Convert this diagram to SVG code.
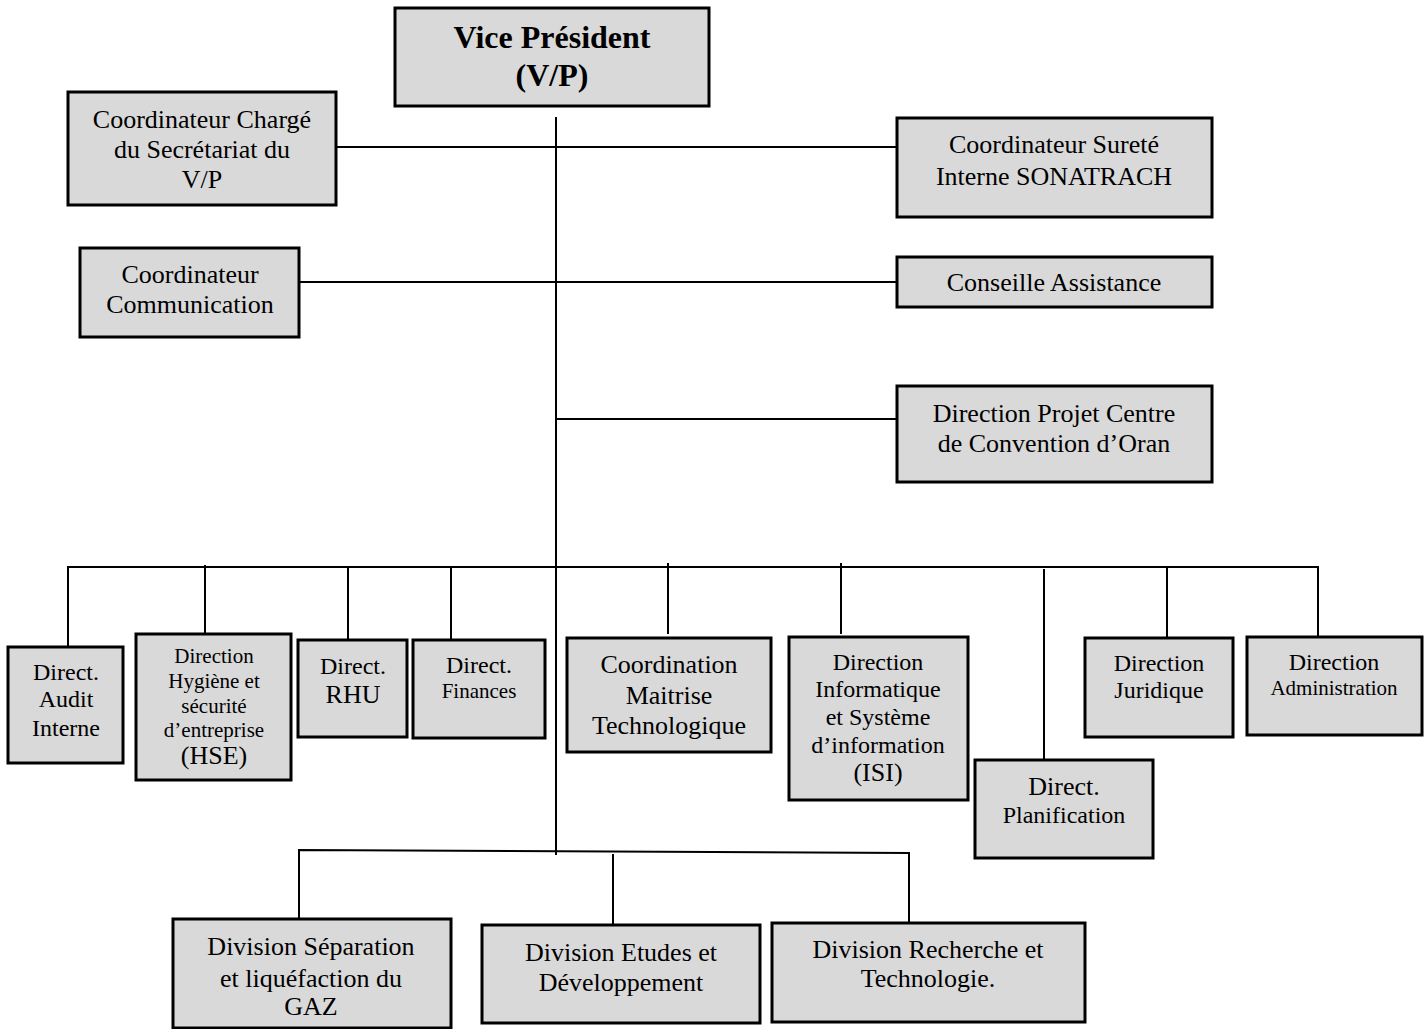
<svg xmlns="http://www.w3.org/2000/svg" width="1428" height="1029" viewBox="0 0 1428 1029">
<style>
.box{fill:#d9d9d9;stroke:#000;stroke-width:3}
.ln{stroke:#000;stroke-width:2;fill:none}
text{font-family:"Liberation Serif","Times New Roman",serif;text-anchor:middle;fill:#000}
.f26{font-size:26px}
.f24{font-size:24px}
.f21{font-size:21px}
.vp{font-size:32px;font-weight:bold}
</style>
<rect width="1428" height="1029" fill="#fff"/>
<g id="connectors">
<line class="ln" x1="556" y1="117" x2="556" y2="855"/>
<line class="ln" x1="336" y1="147" x2="897" y2="147"/>
<line class="ln" x1="299" y1="282" x2="897" y2="282"/>
<line class="ln" x1="556" y1="419" x2="897" y2="419"/>
<polyline class="ln" points="68,647 68,567 1318,567 1318,637"/>
<line class="ln" x1="205" y1="565" x2="205" y2="634"/>
<line class="ln" x1="348" y1="567" x2="348" y2="640"/>
<line class="ln" x1="451" y1="567" x2="451" y2="640"/>
<line class="ln" x1="668" y1="563" x2="668" y2="634"/>
<line class="ln" x1="841" y1="563" x2="841" y2="634"/>
<line class="ln" x1="1044" y1="569" x2="1044" y2="761"/>
<line class="ln" x1="1167" y1="567" x2="1167" y2="638"/>
<polyline class="ln" points="299,919 299,850 909,853 909,923"/>
<line class="ln" x1="613" y1="854" x2="613" y2="925"/>
</g>
<g id="vp">
<rect class="box" x="395" y="8" width="314" height="98"/>
<text class="vp" x="552" y="48">Vice Président</text>
<text class="vp" x="552" y="86">(V/P)</text>
</g>
<g id="coord-secretariat">
<rect class="box" x="68" y="92" width="268" height="113"/>
<text class="f26" x="202" y="128">Coordinateur Chargé</text>
<text class="f26" x="202" y="158">du Secrétariat du</text>
<text class="f26" x="202" y="188">V/P</text>
</g>
<g id="coord-surete">
<rect class="box" x="897" y="118" width="315" height="99"/>
<text class="f26" x="1054" y="153">Coordinateur Sureté</text>
<text class="f26" x="1054" y="185">Interne SONATRACH</text>
</g>
<g id="coord-communication">
<rect class="box" x="80" y="248" width="219" height="89"/>
<text class="f26" x="190" y="283">Coordinateur</text>
<text class="f26" x="190" y="313">Communication</text>
</g>
<g id="conseille-assistance">
<rect class="box" x="897" y="257" width="315" height="50"/>
<text class="f26" x="1054" y="291">Conseille Assistance</text>
</g>
<g id="direction-projet">
<rect class="box" x="897" y="386" width="315" height="96"/>
<text class="f26" x="1054" y="422">Direction Projet Centre</text>
<text class="f26" x="1054" y="452">de Convention d’Oran</text>
</g>
<g id="audit">
<rect class="box" x="8" y="647" width="115" height="116"/>
<text class="f24" x="66" y="680">Direct.</text>
<text class="f24" x="66" y="707">Audit</text>
<text class="f24" x="66" y="736">Interne</text>
</g>
<g id="hse">
<rect class="box" x="136" y="634" width="155" height="146"/>
<text class="f21" x="214" y="663">Direction</text>
<text class="f21" x="214" y="688">Hygiène et</text>
<text class="f21" x="214" y="713">sécurité</text>
<text class="f21" x="214" y="737">d’entreprise</text>
<text class="f26" x="214" y="764">(HSE)</text>
</g>
<g id="rhu">
<rect class="box" x="298" y="640" width="109" height="97"/>
<text class="f24" x="353" y="674">Direct.</text>
<text class="f26" x="353" y="703">RHU</text>
</g>
<g id="finances">
<rect class="box" x="413" y="640" width="132" height="98"/>
<text class="f24" x="479" y="673">Direct.</text>
<text class="f21" x="479" y="698">Finances</text>
</g>
<g id="coordination">
<rect class="box" x="567" y="638" width="204" height="114"/>
<text class="f26" x="669" y="673">Coordination</text>
<text class="f26" x="669" y="704">Maitrise</text>
<text class="f26" x="669" y="734">Technologique</text>
</g>
<g id="isi">
<rect class="box" x="789" y="637" width="179" height="163"/>
<text class="f24" x="878" y="670">Direction</text>
<text class="f24" x="878" y="697">Informatique</text>
<text class="f24" x="878" y="725">et Système</text>
<text class="f24" x="878" y="753">d’information</text>
<text class="f26" x="878" y="781">(ISI)</text>
</g>
<g id="planification">
<rect class="box" x="975" y="760" width="178" height="98"/>
<text class="f26" x="1064" y="795">Direct.</text>
<text class="f24" x="1064" y="823">Planification</text>
</g>
<g id="juridique">
<rect class="box" x="1085" y="638" width="148" height="99"/>
<text class="f24" x="1159" y="671">Direction</text>
<text class="f24" x="1159" y="698">Juridique</text>
</g>
<g id="administration">
<rect class="box" x="1247" y="637" width="175" height="98"/>
<text class="f24" x="1334" y="670">Direction</text>
<text class="f21" x="1334" y="695">Administration</text>
</g>
<g id="div-separation">
<rect class="box" x="173" y="919" width="278" height="109"/>
<text class="f26" x="311" y="955">Division Séparation</text>
<text class="f26" x="311" y="987">et liquéfaction du</text>
<text class="f26" x="311" y="1015">GAZ</text>
</g>
<g id="div-etudes">
<rect class="box" x="482" y="925" width="278" height="98"/>
<text class="f26" x="621" y="961">Division Etudes et</text>
<text class="f26" x="621" y="991">Développement</text>
</g>
<g id="div-recherche">
<rect class="box" x="772" y="923" width="313" height="99"/>
<text class="f26" x="928" y="958">Division Recherche et</text>
<text class="f26" x="928" y="987">Technologie.</text>
</g>
</svg>
